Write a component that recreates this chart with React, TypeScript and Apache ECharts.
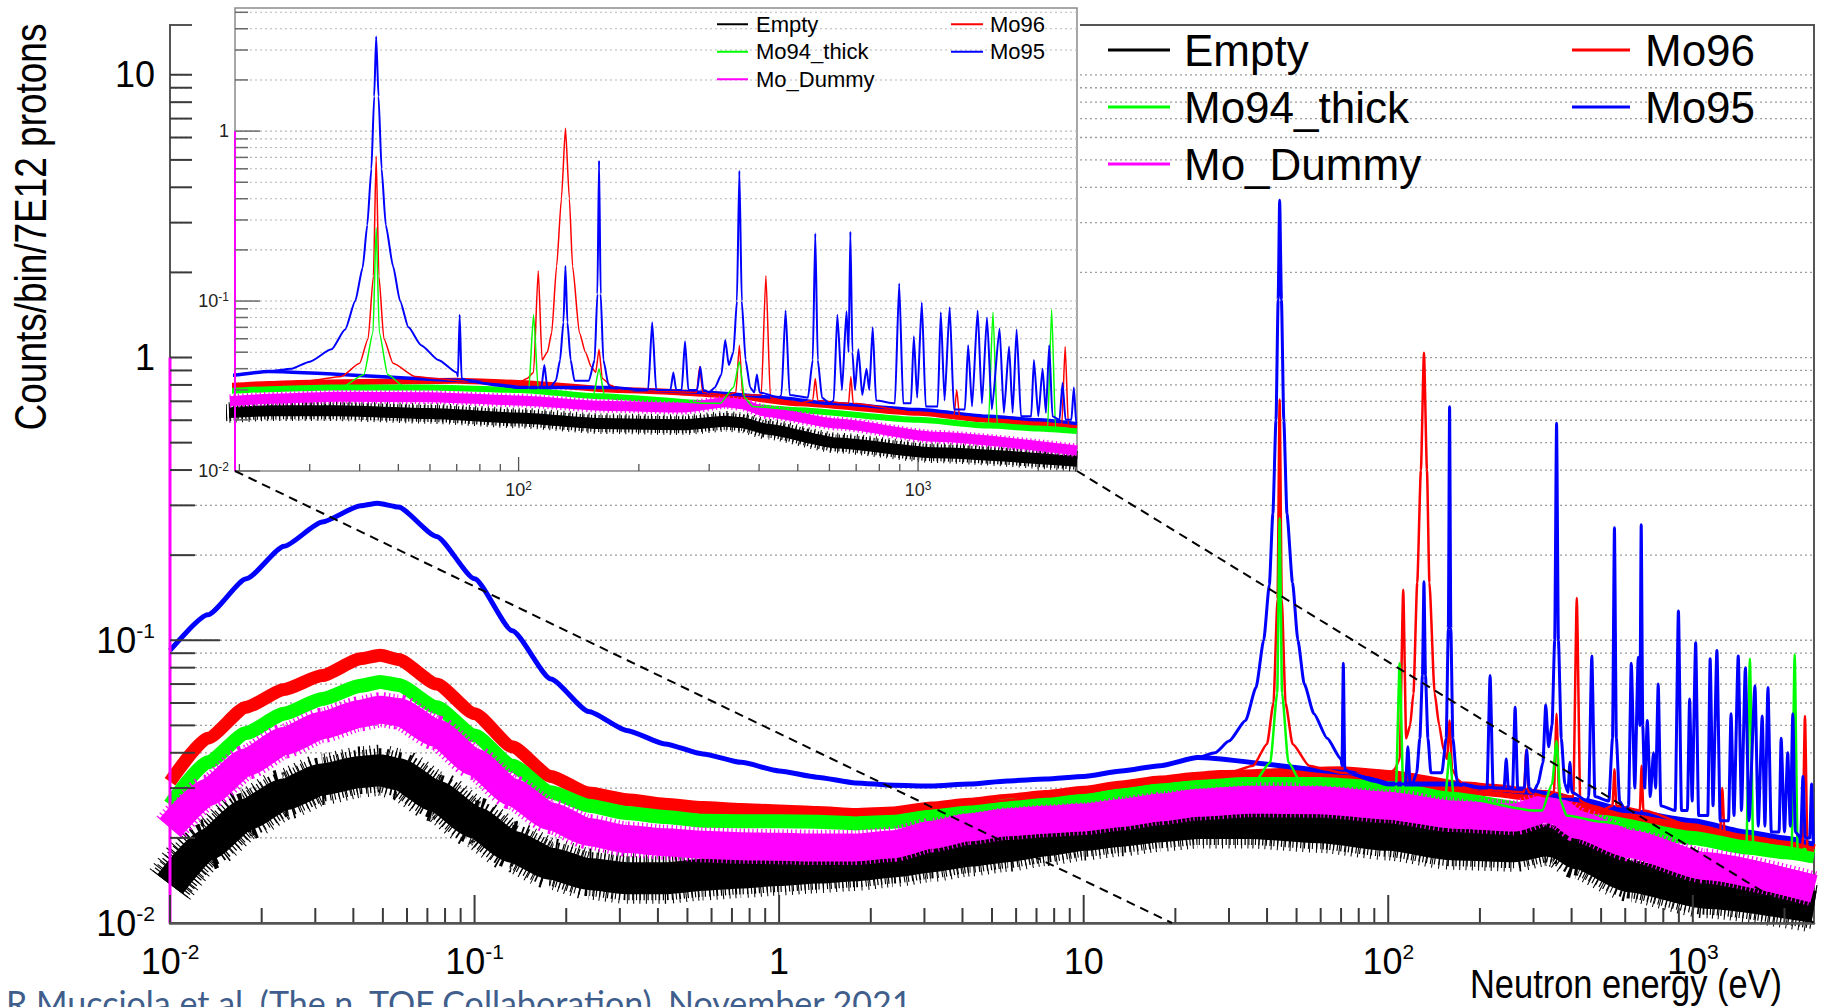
import React, { useEffect, useRef } from 'react';
import * as echarts from 'echarts';

type Pt = [number, number];

// ---------- axis ranges / ticks ----------
const MAIN_X_RANGE: [number, number] = [0.01, 2500];
const MAIN_Y_RANGE: [number, number] = [0.01, 15];
const INSET_X_RANGE: [number, number] = [19.5, 2500];
const INSET_Y_RANGE: [number, number] = [0.01, 5.3];

const MAIN_X_DECADES = [-2, -1, 0, 1, 2, 3];
const MAIN_Y_DECADES = [-2, -1, 0, 1];
const INSET_X_DECADES = [1, 2, 3];
const INSET_Y_DECADES = [-2, -1, 0];
const MULTIPLES = [1, 2, 3, 4, 5, 6, 7, 8, 9];

const LEGEND_COL_1 = ['Empty', 'Mo94_thick', 'Mo_Dummy'];
const LEGEND_COL_2 = ['Mo96', 'Mo95'];

const X_TITLE = 'Neutron energy (eV)';
const Y_TITLE = 'Counts/bin/7E12 protons';
const CREDIT = 'R Mucciola et al. (The n_TOF Collaboration), November 2021';

// y-range of the vertical edge drawn by the Mo_Dummy histogram at the lowest bin
const MO_DUMMY_EDGE: [number, number] = [0.01, 1];

// ---------- data (energy in eV, counts/bin/7E12 protons) ----------
const emptyBase: Pt[] = [
  [0.01, 0.0137], [0.0133, 0.019], [0.0178, 0.0242], [0.0237, 0.0285], [0.0316, 0.0322], [0.0422, 0.0342],
  [0.049, 0.0347], [0.0562, 0.0336], [0.075, 0.028], [0.1, 0.0227], [0.133, 0.0186], [0.178, 0.0162], [0.237, 0.0149],
  [0.316, 0.0144], [0.422, 0.0144], [0.562, 0.0148], [0.75, 0.0151], [1, 0.0154], [1.33, 0.0157],
  [1.78, 0.016], [2.37, 0.0165], [3.16, 0.0172], [4.22, 0.018], [5.62, 0.0187], [7.5, 0.0196], [10, 0.0205],
  [13.3, 0.0212], [17.8, 0.022], [23.7, 0.0226], [35, 0.0226], [60, 0.0218], [100, 0.0205], [161, 0.019],
  [260, 0.0187], [330, 0.0196], [360, 0.0193], [420, 0.0176], [627, 0.0146], [1100, 0.0128], [2500, 0.0114],
];

const moDummyBase: Pt[] = [
  [0.01, 0.0217], [0.0133, 0.029], [0.0178, 0.037], [0.0237, 0.044], [0.0316, 0.050], [0.0422, 0.055],
  [0.049, 0.0568], [0.0562, 0.0558], [0.075, 0.047], [0.1, 0.037], [0.133, 0.029], [0.178, 0.0238], [0.237, 0.021],
  [0.316, 0.0198], [0.422, 0.0193], [0.562, 0.0189], [0.75, 0.0187], [1, 0.0186], [1.33, 0.0185],
  [1.78, 0.0185], [2.37, 0.019], [3.16, 0.0205], [4.22, 0.0218], [5.62, 0.0227], [7.5, 0.0232], [10, 0.0236],
  [13.3, 0.0245], [17.8, 0.0256], [23.7, 0.0266], [35, 0.0273], [60, 0.0272], [100, 0.026], [161, 0.0242],
  [260, 0.0236], [330, 0.0254], [360, 0.0248], [420, 0.0222], [627, 0.019], [1100, 0.0159], [2500, 0.0132],
];

const mo94Base: Pt[] = [
  [0.01, 0.0262], [0.0133, 0.037], [0.0178, 0.047], [0.0237, 0.055], [0.0316, 0.062], [0.0422, 0.069],
  [0.049, 0.0712], [0.0562, 0.0695], [0.075, 0.058], [0.1, 0.046], [0.133, 0.036], [0.178, 0.029], [0.237, 0.026],
  [0.316, 0.0245], [0.422, 0.0237], [0.562, 0.023], [0.75, 0.0229], [1, 0.0229], [1.33, 0.0228],
  [1.78, 0.0225], [2.37, 0.0228], [3.16, 0.0238], [4.22, 0.0248], [5.62, 0.026], [7.5, 0.0265], [10, 0.027],
  [13.3, 0.0283], [17.8, 0.0295], [23.7, 0.0303], [34, 0.031], [60, 0.031], [100, 0.030],
  [160, 0.0275], [300, 0.025], [500, 0.0228], [1000, 0.020], [1500, 0.0185], [2000, 0.0178], [2500, 0.0172],
];
const mo94Peaks: Pt[][] = [
  [[36, 0.031], [41, 0.037], [43.2, 0.065], [44.0, 0.27], [44.8, 0.065], [47, 0.037], [52, 0.031]],
  [[106, 0.030], [109, 0.083], [112, 0.030]],
  [[154, 0.028], [159, 0.040], [164, 0.028]],
  [[320, 0.025], [345, 0.031], [357, 0.044], [368, 0.027], [385, 0.024]],
  [[1500, 0.0186], [1540, 0.086], [1580, 0.0184]],
  [[2110, 0.0178], [2160, 0.089], [2210, 0.0176]],
];

const mo96Base: Pt[] = [
  [0.01, 0.0316], [0.0133, 0.045], [0.0178, 0.058], [0.0237, 0.067], [0.0316, 0.075], [0.0422, 0.086],
  [0.049, 0.0885], [0.0562, 0.0855], [0.075, 0.070], [0.1, 0.055], [0.133, 0.042], [0.178, 0.033], [0.237, 0.0288],
  [0.316, 0.0273], [0.422, 0.0263], [0.562, 0.0256], [0.75, 0.0252], [1, 0.0249], [1.33, 0.0246],
  [1.78, 0.0242], [2.37, 0.0245], [3.16, 0.0255], [4.22, 0.0263], [5.62, 0.0272], [7.5, 0.028], [10, 0.029],
  [13.3, 0.0303], [17.8, 0.0315], [23.7, 0.0325], [28, 0.033], [70, 0.034], [100, 0.033],
  [180, 0.030], [220, 0.0295], [330, 0.028], [500, 0.025], [1000, 0.022], [1500, 0.020], [2000, 0.019], [2500, 0.018],
];
const mo96Peaks: Pt[][] = [
  [[30, 0.034], [36, 0.036], [40, 0.043], [42, 0.06], [43.3, 0.14], [44.0, 0.71], [44.7, 0.14], [46, 0.06], [48.5, 0.043], [55, 0.036], [62, 0.035]],
  [[105, 0.035], [109, 0.038], [112, 0.151], [114.5, 0.045], [118, 0.05], [121, 0.065], [124.5, 0.16], [128, 0.4], [131, 1.04], [134, 0.4], [136.5, 0.16], [142, 0.065], [147, 0.05], [152, 0.041], [156, 0.038], [159, 0.052], [162, 0.035], [170, 0.032]],
  [[279, 0.029], [284, 0.041], [289, 0.029]],
  [[350, 0.029], [357, 0.055], [364, 0.028]],
  [[405, 0.028], [416, 0.141], [427, 0.027]],
  [[545, 0.026], [553, 0.035], [561, 0.026]],
  [[670, 0.025], [679, 0.036], [688, 0.025]],
  [[1230, 0.021], [1250, 0.03], [1270, 0.021]],
  [[2290, 0.0185], [2335, 0.054], [2380, 0.0182]],
];

const mo95Base: Pt[] = [
  [0.01, 0.092], [0.0133, 0.123], [0.0178, 0.165], [0.0237, 0.215], [0.0316, 0.262], [0.0422, 0.299],
  [0.048, 0.305], [0.0562, 0.296], [0.075, 0.233], [0.1, 0.165], [0.133, 0.108], [0.178, 0.073], [0.237, 0.056],
  [0.316, 0.048], [0.422, 0.043], [0.562, 0.0396], [0.75, 0.037], [1, 0.0345], [1.33, 0.0328],
  [1.78, 0.0313], [2.37, 0.0307], [3.16, 0.0305], [4.22, 0.031], [5.62, 0.0318], [7.5, 0.0323], [10, 0.033],
  [13.3, 0.0345], [17.8, 0.036], [23.7, 0.0385],
  [75, 0.034], [90, 0.032], [100, 0.031], [120, 0.031], [170, 0.031], [200, 0.030], [300, 0.029], [450, 0.027],
  [600, 0.025], [1000, 0.023], [1500, 0.021], [2000, 0.020], [2500, 0.019],
];
const mo95Peaks: Pt[][] = [
  [[27, 0.040], [30, 0.044], [34, 0.052], [36.8, 0.068], [39, 0.10], [40.7, 0.157], [41.8, 0.28], [42.8, 0.6], [43.5, 1.6], [44.0, 3.6], [44.6, 1.6], [45.4, 0.6], [46.5, 0.28], [48.5, 0.16], [50.5, 0.10], [53, 0.07], [57, 0.055], [63, 0.045], [70, 0.038]],
  [[70.5, 0.036], [71.2, 0.083], [72, 0.035]],
  [[114, 0.031], [116, 0.042], [118, 0.031]],
  [[124, 0.034], [127, 0.045], [129.5, 0.075], [131, 0.161], [132.5, 0.075], [135, 0.045], [138, 0.034]],
  [[150, 0.034], [155, 0.045], [157.5, 0.11], [159, 0.67], [160.5, 0.11], [163, 0.045], [168, 0.032]],
  [[211, 0.030], [216, 0.075], [221, 0.030]],
  [[240, 0.030], [244, 0.038], [248, 0.030]],
  [[256, 0.030], [261, 0.058], [266, 0.030]],
  [[280, 0.030], [285, 0.041], [290, 0.030]],
  [[310, 0.031], [322, 0.037], [329, 0.059], [336, 0.042], [345, 0.05], [352, 0.1], [357, 0.585], [362, 0.1], [370, 0.045], [380, 0.031]],
  [[389, 0.029], [395, 0.037], [401, 0.029]],
  [[455, 0.028], [466, 0.088], [477, 0.028]],
  [[530, 0.027], [545, 0.045], [553, 0.25], [561, 0.045], [575, 0.027]],
  [[615, 0.026], [628, 0.083], [645, 0.03], [662, 0.087], [670, 0.05], [677, 0.256], [685, 0.05], [695, 0.03], [709, 0.052], [725, 0.028], [743, 0.040], [755, 0.03], [770, 0.070], [785, 0.026]],
  [[875, 0.025], [897, 0.127], [918, 0.025]],
  [[960, 0.025], [976, 0.062], [995, 0.027], [1022, 0.098], [1045, 0.024]],
  [[1120, 0.024], [1140, 0.086], [1165, 0.026], [1200, 0.092], [1230, 0.023]],
  [[1310, 0.023], [1335, 0.055], [1365, 0.024], [1410, 0.088], [1445, 0.025], [1488, 0.080], [1530, 0.023], [1600, 0.069], [1640, 0.022], [1690, 0.054], [1725, 0.022], [1765, 0.068], [1810, 0.021]],
  [[1920, 0.021], [1950, 0.045], [2000, 0.021], [2050, 0.040], [2090, 0.022], [2130, 0.055], [2170, 0.021]],
  [[2260, 0.020], [2300, 0.033], [2340, 0.020], [2420, 0.020], [2455, 0.031], [2490, 0.019]],
];

// ---------- styling ----------
const COLORS: Record<string, string> = {
  Empty: '#000000',
  Mo96: '#ff0000',
  Mo94_thick: '#00ff00',
  Mo95: '#0000ff',
  Mo_Dummy: '#ff00ff',
};
const SANS = "'Liberation Sans', Arial, Helvetica, sans-serif";

function withPeaks(base: Pt[], groups: Pt[][]): Pt[] {
  const ranges = groups.map((g) => [g[0][0], g[g.length - 1][0]]);
  const kept = base.filter(([x]) => !ranges.some(([a, b]) => x >= a && x <= b));
  const all: Pt[] = [...kept];
  groups.forEach((g) => g.forEach((p) => all.push(p)));
  return all.sort((p, q) => p[0] - q[0]);
}

function logTicks(decades: number[], range: [number, number]): [number, number][] {
  const out: [number, number][] = [];
  decades.forEach((d) =>
    MULTIPLES.forEach((m) => {
      const v = parseFloat((m * Math.pow(10, d)).toPrecision(6));
      if (v >= range[0] * (1 - 1e-9) && v <= range[1] * (1 + 1e-9)) out.push([v, m === 1 ? 1 : 0]);
    })
  );
  return out;
}

function decadeLabel(v: number): string {
  const l = Math.log10(v);
  const e = Math.round(l);
  if (Math.abs(l - e) > 1e-6) return '';
  if (e === 0) return '{b|1}';
  if (e === 1) return '{b|10}';
  return `{b|10}{s|${e < 0 ? '-' : ''}${Math.abs(e)}}`;
}

function line(name: string, data: Pt[], width: number, gi: number, z: number, opts: any = {}) {
  const color = COLORS[name];
  return {
    type: 'line',
    name,
    data,
    xAxisIndex: gi,
    yAxisIndex: gi,
    showSymbol: false,
    symbol: 'none',
    silent: true,
    clip: opts.clip === undefined ? true : opts.clip,
    z,
    smooth: opts.smooth === undefined ? 0.2 : opts.smooth,
    smoothMonotone: 'x',
    itemStyle: { color },
    lineStyle: { color, width, join: 'round', cap: 'butt', type: opts.dash || 'solid' },
    emphasis: { disabled: true },
  };
}

function spectra(gi: number, band: Record<string, number>, thin: number, z: number, edgeX: number, edgeW: number, fringe: number) {
  return [
    line('Empty', emptyBase, band.Empty + fringe * 1.6, gi, z, { dash: [1, 5.3] }),
    line('Empty', emptyBase, band.Empty + fringe, gi, z, { dash: [1.2, 2.6] }),
    line('Empty', emptyBase, band.Empty, gi, z),
    line('Mo96', mo96Base, band.Mo96, gi, z),
    line('Mo94_thick', mo94Base, band.Mo94_thick, gi, z),
    line('Mo_Dummy', moDummyBase, band.Mo_Dummy + fringe * 0.6, gi, z, { dash: [1.2, 3.1] }),
    line('Mo_Dummy', moDummyBase, band.Mo_Dummy, gi, z),
    line('Mo95', mo95Base, band.Mo95, gi, z),
    line('Mo96', withPeaks(mo96Base, mo96Peaks), thin, gi, z),
    line('Mo94_thick', withPeaks(mo94Base, mo94Peaks), thin, gi, z),
    line('Mo95', withPeaks(mo95Base, mo95Peaks), thin + 0.5, gi, z),
    line('Mo_Dummy', [[edgeX, MO_DUMMY_EDGE[0]], [edgeX, MO_DUMMY_EDGE[1]]], edgeW, gi, z, { clip: false, smooth: 0 }),
  ];
}

function yLines(gi: number, ticks: [number, number][], xMin: number, z: number, kind: 'grid' | 'tick', major: number, minor: number, color: string, width: number) {
  return {
    type: 'custom',
    xAxisIndex: gi,
    yAxisIndex: gi,
    silent: true,
    z,
    data: ticks.map(([v, m]) => [xMin, v, m]),
    renderItem: (params: any, api: any) => {
      const cs = params.coordSys;
      const p = api.coord([api.value(0), api.value(1)]);
      if (kind === 'grid') {
        return {
          type: 'line',
          shape: { x1: cs.x, y1: p[1], x2: cs.x + cs.width, y2: p[1] },
          style: { stroke: color, lineWidth: width, lineDash: [2, 3] },
        };
      }
      const len = api.value(2) ? major : minor;
      return {
        type: 'line',
        shape: { x1: cs.x, y1: p[1], x2: cs.x + len, y2: p[1] },
        style: { stroke: color, lineWidth: width },
      };
    },
  };
}

function xTicks(gi: number, ticks: [number, number][], yMin: number, z: number, major: number, minor: number, color: string, width: number) {
  return {
    type: 'custom',
    xAxisIndex: gi,
    yAxisIndex: gi,
    silent: true,
    z,
    data: ticks.map(([v, m]) => [v, yMin, m]),
    renderItem: (params: any, api: any) => {
      const cs = params.coordSys;
      const p = api.coord([api.value(0), api.value(1)]);
      const bottom = cs.y + cs.height;
      const len = api.value(2) ? major : minor;
      return {
        type: 'line',
        shape: { x1: p[0], y1: bottom, x2: p[0], y2: bottom - len },
        style: { stroke: color, lineWidth: width },
      };
    },
  };
}

function legend(names: string[], left: number, top: number, fontSize: number, lineHeight: number, iconW: number, iconH: number, pad: number) {
  return {
    data: names,
    orient: 'vertical',
    left,
    top,
    padding: 0,
    itemGap: 0,
    itemWidth: iconW,
    itemHeight: iconH,
    icon: 'rect',
    selectedMode: false,
    z: 8,
    textStyle: { fontFamily: SANS, fontSize, color: '#000', lineHeight, padding: [0, 0, 0, pad] },
  };
}

function buildOption() {
  const mainXT = logTicks(MAIN_X_DECADES, MAIN_X_RANGE);
  const mainYT = logTicks(MAIN_Y_DECADES, MAIN_Y_RANGE);
  const insXT = logTicks(INSET_X_DECADES, INSET_X_RANGE);
  const insYT = logTicks(INSET_Y_DECADES, INSET_Y_RANGE);
  const mainRich = {
    b: { fontFamily: SANS, fontSize: 36, lineHeight: 40, color: '#000' },
    s: { fontFamily: SANS, fontSize: 21, lineHeight: 22, verticalAlign: 'top', color: '#000' },
  };
  const insetRich = {
    b: { fontFamily: SANS, fontSize: 18, lineHeight: 20, color: '#222' },
    s: { fontFamily: SANS, fontSize: 12, lineHeight: 12, verticalAlign: 'top', color: '#222' },
  };
  const hidden = { show: false };
  return {
    animation: false,
    backgroundColor: '#ffffff',
    grid: [
      { left: 170, top: 25, width: 1644, height: 898, show: true, borderColor: '#555', borderWidth: 2, z: 0 },
      { left: 235, top: 8, width: 842, height: 463, show: true, borderColor: '#8a8a8a', borderWidth: 1.5, backgroundColor: 'transparent', z: 5 },
    ],
    xAxis: [
      {
        type: 'log', logBase: 10, gridIndex: 0, min: MAIN_X_RANGE[0], max: MAIN_X_RANGE[1], z: 3,
        axisLine: { show: true, onZero: false, lineStyle: { color: '#555', width: 2.5 } },
        axisTick: hidden, splitLine: hidden, minorTick: hidden, minorSplitLine: hidden,
        axisLabel: { formatter: decadeLabel, margin: 18, rich: mainRich, showMinLabel: true },
      },
      {
        type: 'log', logBase: 10, gridIndex: 1, min: INSET_X_RANGE[0], max: INSET_X_RANGE[1], z: 7,
        axisLine: hidden, axisTick: hidden, splitLine: hidden, minorTick: hidden,
        axisLabel: { formatter: decadeLabel, margin: 9, rich: insetRich, showMinLabel: false },
      },
    ],
    yAxis: [
      {
        type: 'log', logBase: 10, gridIndex: 0, min: MAIN_Y_RANGE[0], max: MAIN_Y_RANGE[1], z: 1,
        axisLine: { show: true, onZero: false, lineStyle: { color: '#555', width: 2 } },
        axisTick: hidden, splitLine: hidden, minorTick: hidden,
        axisLabel: { formatter: decadeLabel, margin: 15, rich: mainRich, showMinLabel: true },
      },
      {
        type: 'log', logBase: 10, gridIndex: 1, min: INSET_Y_RANGE[0], max: INSET_Y_RANGE[1], z: 7,
        axisLine: hidden, axisTick: hidden, splitLine: hidden, minorTick: hidden,
        axisLabel: { formatter: decadeLabel, margin: 6, rich: insetRich, showMinLabel: true },
      },
    ],
    legend: [
      legend(LEGEND_COL_1, 1108, 21.5, 44, 57, 62, 3, 9),
      legend(LEGEND_COL_2, 1572, 21.5, 44, 57, 58, 3, 10),
      legend(LEGEND_COL_1, 717, 10.5, 22, 27.5, 31, 2, 3),
      legend(LEGEND_COL_2, 951, 10.5, 22, 27.5, 32, 2, 2),
    ],
    series: [
      yLines(0, mainYT.filter(([v]) => v > MAIN_Y_RANGE[0] * 1.001), MAIN_X_RANGE[0], 1, 'grid', 0, 0, '#9c9c9c', 1.3),
      ...spectra(0, { Empty: 32, Mo96: 13, Mo94_thick: 14, Mo_Dummy: 28, Mo95: 5 }, 2.5, 2, MAIN_X_RANGE[0], 3, 12),
      yLines(0, mainYT, MAIN_X_RANGE[0], 3, 'tick', 50, 25, '#3a3a3a', 2),
      xTicks(0, mainXT, MAIN_Y_RANGE[0], 3, 28, 15, '#3a3a3a', 2),
      yLines(1, insYT.filter(([v]) => v > INSET_Y_RANGE[0] * 1.001), INSET_X_RANGE[0], 5, 'grid', 0, 0, '#b8b8b8', 1.1),
      ...spectra(1, { Empty: 11, Mo96: 6, Mo94_thick: 6, Mo_Dummy: 10, Mo95: 3.5 }, 1.5, 6, INSET_X_RANGE[0], 2, 6),
      yLines(1, insYT, INSET_X_RANGE[0], 7, 'tick', 25, 13, '#6a6a6a', 1.5),
      xTicks(1, insXT, INSET_Y_RANGE[0], 7, 14, 7, '#555', 1.3),
    ],
  };
}

export default function App() {
  const ref = useRef<HTMLDivElement>(null);
  useEffect(() => {
    if (!ref.current) return;
    const chart = echarts.init(ref.current, null, { renderer: 'svg' });
    chart.setOption(buildOption() as any);
    const g0 = { gridIndex: 0 };
    const g1 = { gridIndex: 1 };
    const bl = chart.convertToPixel(g1, [INSET_X_RANGE[0], INSET_Y_RANGE[0]]) as number[];
    const br = chart.convertToPixel(g1, [INSET_X_RANGE[1], INSET_Y_RANGE[0]]) as number[];
    const ma = chart.convertToPixel(g0, [INSET_X_RANGE[0], MAIN_Y_RANGE[0]]) as number[];
    const mb = chart.convertToPixel(g0, [MAIN_X_RANGE[1], MAIN_Y_RANGE[0]]) as number[];
    const mo = chart.convertToPixel(g0, [MAIN_X_RANGE[0], MAIN_Y_RANGE[0]]) as number[];
    const panelLeft = mo[0] + 22;
    chart.setOption({
      graphic: {
        elements: [
          {
            type: 'rect', id: 'panel', z: 4, silent: true,
            shape: { x: panelLeft, y: 0, width: br[0] + 3 - panelLeft, height: bl[1] + 28 },
            style: { fill: '#ffffff' },
          },
          {
            type: 'line', id: 'conn1', z: 9, silent: true,
            shape: { x1: bl[0], y1: bl[1], x2: ma[0], y2: ma[1] },
            style: { stroke: '#000', lineWidth: 2, lineDash: [9, 6] },
          },
          {
            type: 'line', id: 'conn2', z: 9, silent: true,
            shape: { x1: br[0], y1: br[1], x2: mb[0], y2: mb[1] },
            style: { stroke: '#000', lineWidth: 2, lineDash: [9, 6] },
          },
          {
            type: 'text', id: 'ytitle', z: 9, x: 31, y: 227, rotation: Math.PI / 2, scaleX: 0.84,
            style: { text: Y_TITLE, fontFamily: SANS, fontSize: 44, fill: '#000', align: 'center', verticalAlign: 'middle' },
          },
          {
            type: 'text', id: 'xtitle', z: 9, x: 1782, y: 984, scaleX: 0.84,
            style: { text: X_TITLE, fontFamily: SANS, fontSize: 41, fill: '#000', align: 'right', verticalAlign: 'middle' },
          },
          {
            type: 'text', id: 'credit', z: 9, x: 6, y: 1002,
            style: { text: CREDIT, fontFamily: "Lato, 'Open Sans', sans-serif", fontSize: 34, fill: '#3f5e8c', align: 'left', verticalAlign: 'middle' },
          },
        ],
      },
    } as any);
    return () => chart.dispose();
  }, []);
  return (
    <div
      ref={ref}
      style={{ position: 'fixed', left: 0, top: 0, width: 1832, height: 1007, background: '#fff' }}
    />
  );
}
